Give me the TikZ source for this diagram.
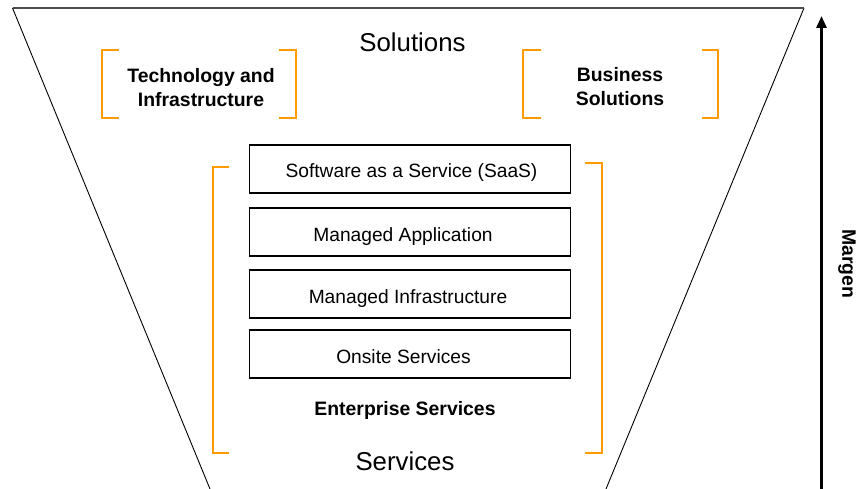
\documentclass[tikz,border=0pt]{standalone}
\usepackage{fontspec}
\setmainfont{Liberation Sans}
\usetikzlibrary{arrows.meta}
\definecolor{bracketorange}{HTML}{FF9A00}
\tikzset{
  funnel/.style={draw=black, line width=0.9pt},
  rim/.style={draw=black!70, line width=1.4pt},
  bracket/.style={draw=bracketorange, line width=1.8pt},
  layer/.style={draw=black, line width=1.1pt, minimum width=321pt, minimum height=48pt,
    inner sep=0pt},
  layertext/.style={anchor=base, inner sep=0pt, font=\fontsize{19.2}{23}\selectfont},
  group/.style={align=center, font=\bfseries\fontsize{19.4}{24}\selectfont},
  heading/.style={font=\fontsize{25.8}{30}\selectfont},
  axis/.style={line width=2.8pt, -{Triangle[width=10pt,length=12pt]}}
}
\begin{document}
\begin{tikzpicture}[x=1pt, y=-1pt]
  \useasboundingbox (0,0) rectangle (862,489);

  % funnel outline
  \draw[funnel] (12.5,8) -- (210,489);
  \draw[funnel] (804,8) -- (606,489);
  \draw[rim] (12.5,8) -- (804,8);

  % headings
  \node[heading] (solutions) at (412.5,42) {Solutions};
  \node[heading] (services) at (405,461) {Services};

  % top groups with brackets
  \node[group] (tech) at (201,88) {Technology and\\Infrastructure};
  \draw[bracket] (119,50) -- (102,50) -- (102,118) -- (119,118);
  \draw[bracket] (279,50) -- (296,50) -- (296,118) -- (279,118);

  \node[group] (business) at (620,87) {Business\\Solutions};
  \draw[bracket] (541,50) -- (523,50) -- (523,118) -- (541,118);
  \draw[bracket] (702,50) -- (718,50) -- (718,118) -- (702,118);

  % service layers
  \node[layer] (saas) at (410,169) {};
  \node[layer] (mapp) at (410,232) {};
  \node[layer] (minf) at (410,294) {};
  \node[layer] (onsite) at (410,354) {};
  \node[layertext] (saastext) at (411.5,178) {Software as a Service (SaaS)};
  \node[layertext] (mapptext) at (403,241) {Managed Application};
  \node[layertext] (minftext) at (408,303) {Managed\ Infrastructure};
  \node[layertext] (onsitetext) at (403.5,363) {Onsite Services};

  \node[group, anchor=base, inner sep=0pt] (enterprise) at (405,415) {Enterprise Services};
  \draw[bracket] (229,167) -- (213,167) -- (213,453) -- (229,453);
  \draw[bracket] (585,163) -- (602,163) -- (602,453) -- (585,453);

  % margin axis
  \coordinate (axisbottom) at (821.5,489);
  \coordinate (axistop) at (821.5,16);
  \draw[axis] (axisbottom) -- (axistop);
  \node[group, rotate=-90] (margen) at (847,264) {Margen};
\end{tikzpicture}
\end{document}
